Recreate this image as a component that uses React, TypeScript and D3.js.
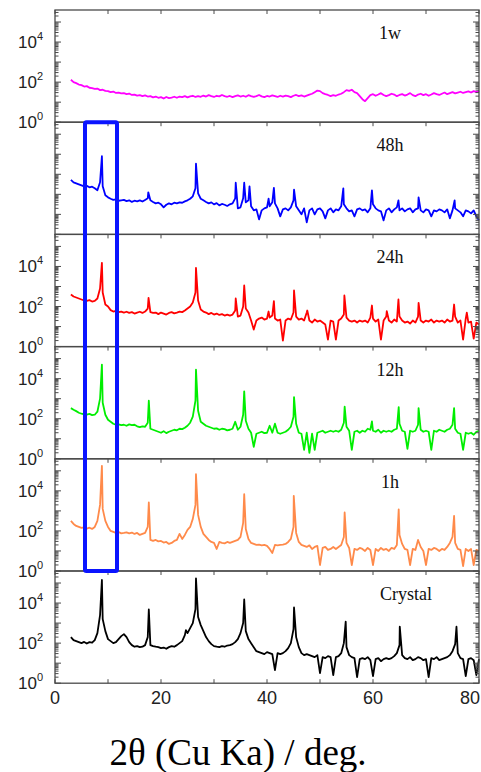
import React from "react";
import * as d3 from "d3";

// x grid of the baseline arrays: 3, 3.5, ... 80 (deg)
const X_START = 3;
const X_STEP = 0.5;

const panelNames = ["1w", "48h", "24h", "12h", "1h", "Crystal"];
const panelColors = ["#ff00ff", "#0000ff", "#ff0000", "#00ee00", "#ff8a4a", "#000000"];
const showYLabels = [true, false, true, true, true, true];
const xTickLabels = [0, 20, 40, 60, 80];
const yLabelExps = [0, 2, 4];

// log10(intensity) baselines
const base1w = [
  2.12, 2.0, 1.95, 1.88, 1.85, 1.78, 1.8, 1.72, 1.7, 1.66,
  1.68, 1.6, 1.62, 1.56, 1.55, 1.5, 1.53, 1.46, 1.48, 1.44,
  1.45, 1.4, 1.43, 1.36, 1.38, 1.33, 1.35, 1.3, 1.34, 1.28,
  1.3, 1.24, 1.28, 1.22, 1.25, 1.18, 1.26, 1.2, 1.23, 1.27,
  1.22, 1.28, 1.25, 1.3, 1.24, 1.29, 1.32, 1.26, 1.3, 1.27,
  1.33, 1.28, 1.35, 1.3, 1.26, 1.32, 1.29, 1.36, 1.3, 1.27,
  1.31, 1.25, 1.3, 1.34, 1.28, 1.32, 1.27, 1.35, 1.3, 1.26,
  1.3, 1.36, 1.29, 1.25, 1.31, 1.28, 1.34, 1.3, 1.26, 1.32,
  1.28, 1.33, 1.3, 1.25, 1.32, 1.36, 1.3, 1.34, 1.28, 1.33,
  1.38, 1.42, 1.5, 1.58, 1.55, 1.45, 1.4, 1.36, 1.3, 1.35,
  1.32, 1.38, 1.42, 1.5, 1.6, 1.56, 1.62, 1.5, 1.45, 1.3,
  1.15, 1.05, 1.2, 1.35, 1.4, 1.32, 1.38, 1.45, 1.36, 1.3,
  1.35, 1.42, 1.38, 1.3, 1.36, 1.4, 1.33, 1.38, 1.45, 1.35,
  1.3, 1.38, 1.42, 1.35, 1.4, 1.32, 1.38, 1.45, 1.4, 1.36,
  1.42, 1.48, 1.4, 1.45, 1.5, 1.44, 1.48, 1.52, 1.46, 1.5,
  1.54, 1.48, 1.55, 1.5, 1.56,
];
const peaks1w: [number, number][] = [];

const base48h = [
  2.72, 2.6, 2.55, 2.5, 2.45, 2.4, 2.42, 2.35, 2.38, 2.3,
  2.2, 2.6, 2.4, 1.95, 1.85, 1.78, 1.72, 1.75, 1.68, 1.7,
  1.72, 1.66, 1.7, 1.62, 1.68, 1.65, 1.7, 1.64, 1.72, 1.8,
  1.7, 1.62, 1.55, 1.58, 1.5, 1.35, 1.48, 1.55, 1.5, 1.58,
  1.55, 1.6, 1.58, 1.65, 1.7, 1.78, 1.9, 2.3, 2.05, 1.78,
  1.7, 1.62, 1.55, 1.6, 1.5, 1.56, 1.45, 1.52, 1.48, 1.42,
  1.5, 1.55, 1.8, 1.3, 1.35, 1.8, 1.6, 1.7, 1.4, 1.2,
  1.25, 0.75, 1.2, 1.3, 1.35, 1.4, 1.6, 1.55, 1.3, 0.9,
  1.25, 1.3, 1.2, 1.35, 1.7, 1.4, 1.2, 1.0, 1.3, 0.6,
  1.2, 1.3, 1.0, 1.25, 1.3, 1.15, 0.8, 1.2, 1.3, 1.1,
  1.25, 1.2, 1.4, 1.5, 1.3, 1.15, 1.2, 0.9, 1.25, 1.3,
  1.2, 1.25, 1.1, 1.3, 1.5, 1.3, 1.2, 1.15, 0.7, 1.2,
  1.3, 1.1, 1.25, 1.35, 1.2, 1.3, 1.15, 1.25, 1.3, 1.1,
  1.25, 1.3, 1.2, 1.1, 1.25, 1.2, 0.9, 1.2, 1.15, 1.25,
  1.2, 1.1, 1.25, 0.8, 1.2, 1.3, 1.2, 1.1, 0.9, 1.2,
  1.15, 1.05, 1.2, 0.9, 0.7,
];
const peaks48h: [number, number][] = [
  [8.85, 3.9], [17.6, 2.1], [26.6, 3.53], [34.1, 2.58], [35.7, 2.58], [36.7, 2.4],
  [40.3, 1.78], [41.3, 2.32], [45.1, 2.23], [54.4, 2.3], [59.8, 2.2], [64.8, 1.7],
  [68.6, 1.85], [75.4, 1.7],
];

const base24h = [
  2.6, 2.5, 2.45, 2.4, 2.35, 2.3, 2.28, 2.32, 2.25, 2.28,
  2.4, 2.9, 2.7, 2.1, 2.0, 1.82, 1.75, 1.78, 1.72, 1.75,
  1.7, 1.74, 1.68, 1.72, 1.65, 1.7, 1.74, 1.68, 1.75, 1.9,
  1.72, 1.68, 1.7, 1.62, 1.7, 1.65, 1.6, 1.68, 1.72, 1.66,
  1.7, 1.75, 1.72, 1.8, 1.9, 2.0, 2.2, 2.7, 2.3, 1.85,
  1.75, 1.7, 1.62, 1.68, 1.6, 1.65, 1.58, 1.62, 1.55, 1.6,
  1.55, 1.6, 1.8, 1.5, 1.55, 2.0, 1.9, 1.7, 1.3, 0.85,
  1.3, 1.4, 1.45, 1.35, 1.4, 1.45, 1.55, 1.4, 1.3, 1.35,
  0.3, 1.3, 1.4, 1.35, 1.7, 1.5, 1.35, 1.4, 1.3, 1.7,
  1.3, 1.2, 1.35, 1.25, 1.3, 1.2, 1.1, 0.35, 1.3, 1.25,
  0.35, 1.3, 1.4, 1.6, 1.45, 1.3, 1.25, 1.3, 1.2, 1.3,
  1.25, 1.3, 1.2, 1.45, 1.4, 1.25, 1.35, 0.35, 1.3, 1.5,
  1.3, 1.2, 1.35, 1.25, 1.5, 1.3, 1.2, 1.25, 1.15, 1.3,
  1.2, 1.5, 1.3, 1.2, 1.3, 1.25, 1.35, 1.2, 1.3, 1.25,
  1.3, 1.2, 1.35, 1.25, 1.3, 1.5, 1.2, 1.3, 0.35, 1.4,
  1.2, 1.25, 0.4, 1.2, 1.1,
];
const peaks24h: [number, number][] = [
  [8.85, 4.18], [17.65, 2.43], [26.6, 3.93], [34.1, 2.4], [35.7, 3.05], [40.3, 1.75],
  [41.3, 2.27], [45.1, 2.8], [47.6, 1.8], [54.6, 2.55], [59.8, 2.05], [62.6, 1.77],
  [64.8, 2.35], [68.6, 2.18], [75.3, 2.1], [77.7, 1.7],
];

const base12h = [
  2.53, 2.45, 2.38, 2.3, 2.25, 2.22, 2.2, 2.24, 2.18, 2.2,
  2.35, 3.0, 2.8, 2.2, 1.95, 1.85, 1.75, 1.7, 1.72, 1.68,
  1.7, 1.65, 1.72, 1.68, 1.7, 1.62, 1.58, 1.62, 1.6, 1.8,
  1.5, 1.45, 1.4, 1.35, 1.3, 1.38, 1.28, 1.35, 1.4, 1.45,
  1.42, 1.5, 1.48, 1.55, 1.65, 1.8, 2.1, 2.9, 2.4, 1.85,
  1.75, 1.65, 1.6, 1.55, 1.5, 1.52, 1.45, 1.5, 1.48, 1.42,
  1.45, 1.5, 1.85, 1.45, 1.6, 2.2, 1.9, 1.5, 1.3, 0.6,
  1.25, 1.3, 1.35, 1.28, 1.3, 1.65, 1.3, 1.75, 1.3, 1.25,
  1.3, 1.35, 1.45, 1.6, 2.1, 1.75, 1.3, 1.25, 0.45, 1.3,
  0.3, 1.25, 0.45, 1.3, 1.35, 1.4, 1.3, 1.35, 1.4, 1.35,
  1.4, 1.35, 1.45, 1.8, 1.6, 1.4, 0.45, 1.35, 1.4, 1.3,
  1.4, 1.35, 1.5, 1.45, 1.4, 1.35, 1.45, 1.3, 1.4, 1.35,
  1.4, 1.35, 1.45, 1.5, 1.75, 1.4, 1.35, 0.5, 1.4, 1.35,
  1.4, 1.7, 1.45, 1.35, 1.4, 1.35, 0.45, 1.4, 1.35, 1.45,
  1.4, 1.35, 1.45, 1.5, 1.7, 1.5, 1.3, 1.25, 0.45, 1.3,
  1.25, 1.3, 1.2, 1.35, 1.4,
];
const peaks12h: [number, number][] = [
  [8.85, 4.7], [17.7, 2.9], [26.6, 4.45], [35.7, 3.37], [45.1, 3.08], [54.65, 2.6],
  [59.8, 1.87], [64.85, 2.58], [68.6, 2.53], [75.3, 2.53],
];

const base1h = [
  2.5, 2.35, 2.25, 2.2, 2.15, 2.18, 2.12, 2.16, 2.1, 2.2,
  2.5, 3.3, 3.1, 2.5, 2.2, 2.0, 1.95, 1.9, 1.95, 1.88,
  1.9, 1.93, 1.88, 1.92, 1.85, 1.9, 1.8, 1.85, 1.9, 2.2,
  1.55, 1.5, 1.55, 1.48, 1.5, 1.42, 1.45, 1.35, 1.4, 1.5,
  1.55, 1.85, 1.6, 1.8, 2.05, 2.2, 2.6, 3.3, 2.8, 2.2,
  1.85, 1.7, 1.55, 1.45, 1.4, 1.1, 1.45, 1.4, 1.38, 1.45,
  1.4, 1.45, 1.5, 1.55, 1.7, 2.4, 2.1, 1.6, 1.4, 1.35,
  1.3, 1.32, 1.28, 1.3, 1.25, 1.1, 0.9, 1.3, 1.28, 1.3,
  1.32, 1.35, 1.45, 1.6, 2.2, 1.9, 1.45, 1.3, 1.25, 1.2,
  1.28, 1.1, 1.2, 1.25, 0.3, 1.15, 1.2, 1.05, 1.1, 1.2,
  1.1, 1.2, 1.3, 1.7, 1.4, 1.15, 0.3, 1.1, 1.05, 1.15,
  1.1, 1.0, 1.15, 1.05, 0.3, 1.1, 1.0, 1.15, 1.05, 1.1,
  1.0, 1.15, 1.1, 1.3, 1.8, 1.35, 1.1, 1.05, 0.3, 1.1,
  1.05, 1.55, 1.2, 1.0, 0.3, 1.1, 1.05, 1.15, 1.1, 1.0,
  1.1, 1.05, 1.2, 1.4, 1.7, 1.4, 1.1, 1.05, 0.25, 1.1,
  1.0, 1.1, 0.3, 1.05, 1.0,
];
const peaks1h: [number, number][] = [
  [8.85, 5.25], [17.7, 3.42], [26.6, 4.83], [35.7, 3.83], [45.05, 3.75], [54.65, 2.92],
  [64.85, 3.08], [75.3, 2.75],
];

const baseCrystal = [
  2.3, 2.15, 2.1, 2.05, 2.0, 2.06, 1.98, 2.05, 2.02, 2.15,
  2.5, 3.4, 3.2, 2.6, 2.2, 2.1, 2.0, 2.05, 2.2, 2.35,
  2.45, 2.3, 2.05, 1.9, 1.82, 1.85, 1.8, 1.82, 1.9, 2.3,
  1.9, 1.85, 1.82, 1.8, 1.75, 1.78, 1.72, 1.8, 1.85, 1.82,
  1.9, 2.0, 2.1, 2.4, 2.5, 2.75, 3.0, 3.7, 3.3, 2.9,
  2.6, 2.3, 2.1, 1.95, 1.85, 1.82, 1.8, 1.85, 1.82, 1.88,
  1.9, 1.95, 2.05, 2.2, 2.5, 3.0, 2.6, 2.2, 2.0, 1.8,
  1.6, 1.55, 1.5, 1.45, 1.55, 1.5, 1.45, 0.65, 1.5, 1.45,
  1.5, 1.6, 1.75, 2.0, 2.7, 2.3, 1.8, 1.5, 1.4, 1.45,
  1.4, 1.35, 1.3, 1.4, 0.5, 1.3, 1.25, 1.35, 1.3, 0.4,
  1.3, 1.35, 1.5, 2.0, 1.8, 1.4, 1.3, 1.25, 0.3, 1.2,
  1.25, 1.2, 1.3, 1.15, 0.35, 1.2, 1.25, 1.1, 1.2, 1.25,
  1.2, 1.25, 1.35, 1.5, 1.9, 1.4, 1.25, 1.2, 1.3, 1.15,
  1.2, 1.3, 1.25, 1.15, 1.2, 0.3, 1.25, 1.2, 1.3, 1.15,
  1.2, 1.25, 1.3, 1.4, 1.6, 1.95, 1.5, 1.25, 1.2, 0.35,
  1.2, 1.25, 1.15, 0.4, 1.2,
];
const peaksCrystal: [number, number][] = [
  [8.85, 5.15], [17.7, 3.68], [24.7, 2.65], [26.6, 5.23], [35.7, 4.18], [45.1, 3.78],
  [54.85, 3.07], [65.05, 2.82], [75.75, 2.82],
];

const panelBases = [base1w, base48h, base24h, base12h, base1h, baseCrystal];
const panelPeaks = [peaks1w, peaks48h, peaks24h, peaks12h, peaks1h, peaksCrystal];

// highlight box (deg)
const boxX = [5.66, 11.7];

export default function App() {
  const W = 481;
  const H = 772;
  const x = d3.scaleLinear().domain([0, 80]).range([55, 479]);
  const top0 = 10;
  const ph = 112.2;
  const logMax = 5.6;
  const frame = "#4a4a4a";

  const panels = panelNames.map((name, i) => {
    const top = top0 + i * ph;
    const bottom = top + ph;
    const y = d3.scaleLog().domain([1, Math.pow(10, logMax)]).range([bottom, top]);
    const pts: [number, number][] = panelBases[i]
      .map((v, k) => [X_START + k * X_STEP, v] as [number, number])
      .concat(panelPeaks[i])
      .sort((a, b) => a[0] - b[0]);
    const line = d3
      .line<[number, number]>()
      .x((d) => x(d[0]))
      .y((d) => y(Math.pow(10, d[1])));
    return { name, i, top, bottom, y, path: line(pts) || "" };
  });

  const xMinor = d3.range(0, 81, 10);

  return (
    <svg
      width={W}
      height={H}
      style={{ position: "absolute", left: 0, top: 0, background: "#fff" }}
    >
      <rect x={0} y={0} width={W} height={H} fill="#fff" />
      {panels.map((p) => {
        const yt = p.y.ticks();
        return (
          <g key={p.name}>
            <path d={p.path} fill="none" stroke={panelColors[p.i]} strokeWidth={1.8} strokeLinejoin="round" />
            {yt.map((t, k) => {
              const major = Math.abs(Math.log10(t) - Math.round(Math.log10(t))) < 1e-9;
              const len = major ? 6 : 3.5;
              const yy = p.y(t);
              return (
                <g key={k}>
                  <line x1={x(0)} x2={x(0) + len} y1={yy} y2={yy} stroke={frame} strokeWidth={1} />
                  <line x1={x(80)} x2={x(80) - len} y1={yy} y2={yy} stroke={frame} strokeWidth={1} />
                </g>
              );
            })}
            {xMinor.map((v) => (
              <line key={v} x1={x(v)} x2={x(v)} y1={p.top} y2={p.top + 4} stroke={frame} strokeWidth={1} />
            ))}
            <rect x={x(0)} y={p.top} width={x(80) - x(0)} height={p.bottom - p.top} fill="none" stroke={frame} strokeWidth={1.3} />
            <text
              x={p.name === "Crystal" ? 406 : 390}
              y={p.top + 29}
              textAnchor="middle"
              fontFamily="'Liberation Serif', 'Times New Roman', serif"
              fontSize={18}
              fill="#111"
            >
              {p.name}
            </text>
            {showYLabels[p.i] &&
              yLabelExps.map((e) => (
                <text
                  key={e}
                  x={43}
                  y={p.y(Math.pow(10, e)) + 6}
                  textAnchor="end"
                  fontFamily="'Liberation Sans', Arial, sans-serif"
                  fontSize={17}
                  fill="#222"
                >
                  10
                  <tspan dy={-8} fontSize={11}>
                    {e}
                  </tspan>
                </text>
              ))}
          </g>
        );
      })}
      {xMinor.map((v) => (
        <line
          key={"b" + v}
          x1={x(v)}
          x2={x(v)}
          y1={panels[5].bottom}
          y2={panels[5].bottom - 4}
          stroke={frame}
          strokeWidth={1}
        />
      ))}
      {xTickLabels.map((v) => (
        <text
          key={"xl" + v}
          x={v === 80 ? W - 1 : x(v)}
          y={panels[5].bottom + 21}
          textAnchor={v === 80 ? "end" : "middle"}
          fontFamily="'Liberation Sans', Arial, sans-serif"
          fontSize={18}
          fill="#222"
        >
          {v}
        </text>
      ))}
      <rect
        x={x(boxX[0])}
        y={panels[1].top}
        width={x(boxX[1]) - x(boxX[0])}
        height={panels[4].bottom - panels[1].top}
        fill="none"
        stroke="#0a14ff"
        strokeWidth={4}
        rx={1.5}
      />
      <text
        x={238}
        y={765}
        textAnchor="middle"
        fontFamily="'Liberation Serif', 'Times New Roman', serif"
        fontSize={37}
        fill="#000"
      >
        2θ (Cu Ka) / deg.
      </text>
    </svg>
  );
}
